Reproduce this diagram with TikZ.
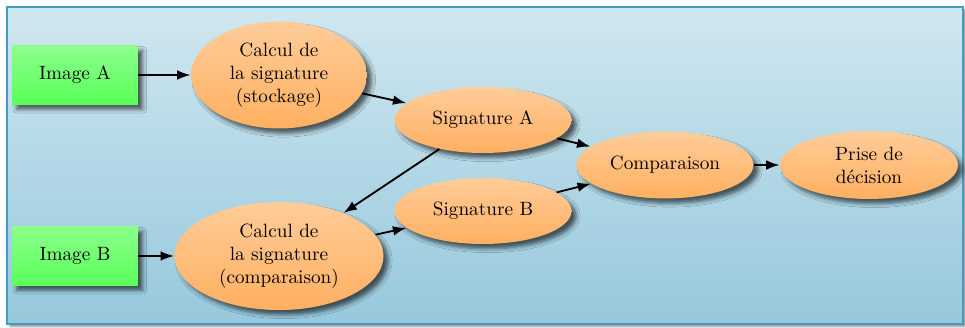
\documentclass[tikz,border=0pt]{standalone}
\usetikzlibrary{shapes.geometric,shadows.blur,arrows.meta}
\definecolor{bgtop}{RGB}{208,231,240}
\definecolor{bgbot}{RGB}{150,200,220}
\definecolor{bgline}{RGB}{70,155,195}
\tikzset{
  imgbox/.style={rectangle, minimum width=65.5pt, minimum height=30.7pt, inner sep=0pt,
    top color=green!45, bottom color=green!65, draw=none,
    blur shadow={shadow xshift=2.5pt, shadow yshift=-2.5pt, shadow blur radius=2pt, shadow opacity=60}},
  proc/.style={ellipse, inner sep=0pt, align=center,
    top color=orange!40, bottom color=orange!62, draw=none,
    blur shadow={shadow xshift=2.5pt, shadow yshift=-2.5pt, shadow blur radius=2pt, shadow opacity=60}},
  arr/.style={-{Latex[length=7pt,width=5pt]}, line width=0.95pt, black}
}
\begin{document}
\begin{tikzpicture}[x=0.52pt,y=-0.52pt]
\useasboundingbox (0,0) rectangle (965,327);
\shade[top color=bgtop, bottom color=bgbot, draw=bgline, line width=1.2pt,
  blur shadow={shadow xshift=1.5pt, shadow yshift=-1.5pt, shadow blur radius=1pt, shadow opacity=40}]
  (7,7) rectangle (963,324);
\node[imgbox] (ia) at (75,75) {Image A};
\node[imgbox] (ib) at (75,256) {Image B};
\node[proc, minimum width=91.5pt, minimum height=55.6pt] (ca) at (279,75) {Calcul de\\la signature\\(stockage)};
\node[proc, minimum width=108.7pt, minimum height=56.2pt] (cb) at (279,256) {Calcul de\\la signature\\(comparaison)};
\node[proc, minimum width=92pt, minimum height=34.3pt] (sa) at (483,120) {Signature A};
\node[proc, minimum width=92pt, minimum height=34.3pt] (sb) at (483,211) {Signature B};
\node[proc, minimum width=92pt, minimum height=34.8pt] (cp) at (665,165) {Comparaison};
\node[proc, minimum width=92.5pt, minimum height=35.3pt] (pd) at (869,165) {Prise de\\décision};
\draw[arr] (ia) -- (ca);
\draw[arr] (ib) -- (cb);
\draw[arr] (ca) -- (sa);
\draw[arr] (sa) -- (cb);
\draw[arr] (cb) -- (sb);
\draw[arr] (sa) -- (cp);
\draw[arr] (sb) -- (cp);
\draw[arr] (cp) -- (pd);
\end{tikzpicture}
\end{document}
